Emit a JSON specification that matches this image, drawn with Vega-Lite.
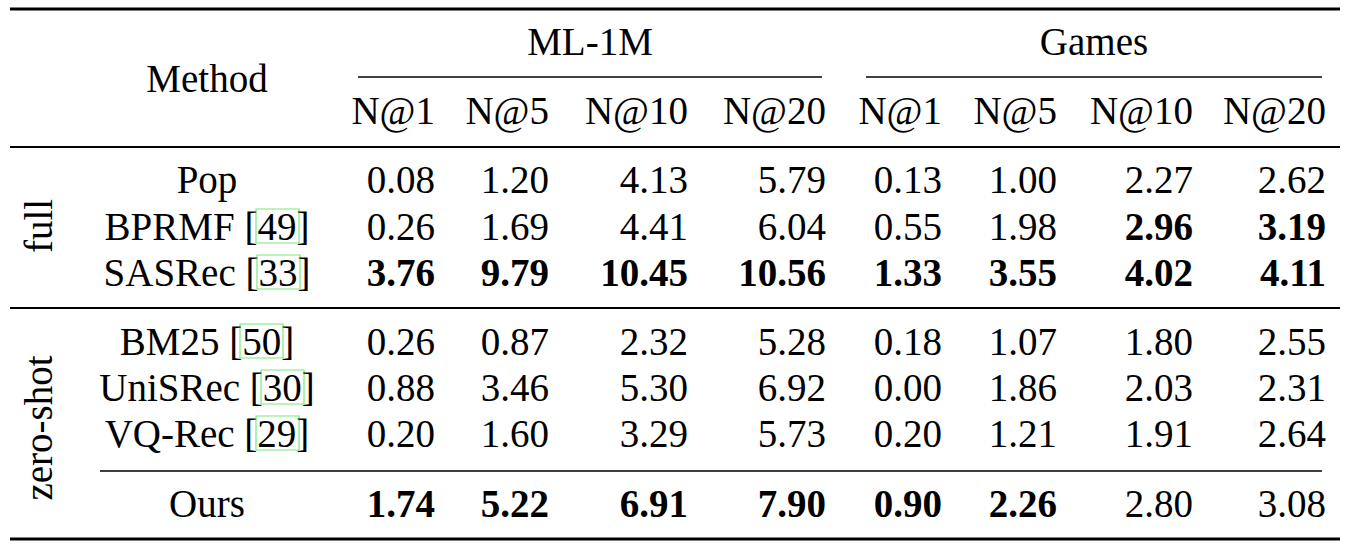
{
  "$schema": "https://vega.github.io/schema/vega-lite/v6.json",
  "width": 1352,
  "height": 550,
  "padding": 0,
  "autosize": "none",
  "background": "white",
  "config": {
    "view": {"stroke": null},
    "font": "Liberation Serif",
    "text": {"font": "Liberation Serif", "fontSize": 39, "color": "black", "baseline": "alphabetic"},
    "rule": {"color": "black"},
    "rect": {"filled": false, "stroke": "#7be87b", "strokeWidth": 1.2}
  },
  "datasets": {
    "table": [
      {"method": "Pop", "group": "full", "ML-1M N@1": 0.08, "ML-1M N@5": 1.20, "ML-1M N@10": 4.13, "ML-1M N@20": 5.79, "Games N@1": 0.13, "Games N@5": 1.00, "Games N@10": 2.27, "Games N@20": 2.62, "best": []},
      {"method": "BPRMF [49]", "group": "full", "ML-1M N@1": 0.26, "ML-1M N@5": 1.69, "ML-1M N@10": 4.41, "ML-1M N@20": 6.04, "Games N@1": 0.55, "Games N@5": 1.98, "Games N@10": 2.96, "Games N@20": 3.19, "best": ["Games N@10", "Games N@20"]},
      {"method": "SASRec [33]", "group": "full", "ML-1M N@1": 3.76, "ML-1M N@5": 9.79, "ML-1M N@10": 10.45, "ML-1M N@20": 10.56, "Games N@1": 1.33, "Games N@5": 3.55, "Games N@10": 4.02, "Games N@20": 4.11, "best": ["ML-1M N@1", "ML-1M N@5", "ML-1M N@10", "ML-1M N@20", "Games N@1", "Games N@5", "Games N@10", "Games N@20"]},
      {"method": "BM25 [50]", "group": "zero-shot", "ML-1M N@1": 0.26, "ML-1M N@5": 0.87, "ML-1M N@10": 2.32, "ML-1M N@20": 5.28, "Games N@1": 0.18, "Games N@5": 1.07, "Games N@10": 1.80, "Games N@20": 2.55, "best": []},
      {"method": "UniSRec [30]", "group": "zero-shot", "ML-1M N@1": 0.88, "ML-1M N@5": 3.46, "ML-1M N@10": 5.30, "ML-1M N@20": 6.92, "Games N@1": 0.00, "Games N@5": 1.86, "Games N@10": 2.03, "Games N@20": 2.31, "best": []},
      {"method": "VQ-Rec [29]", "group": "zero-shot", "ML-1M N@1": 0.20, "ML-1M N@5": 1.60, "ML-1M N@10": 3.29, "ML-1M N@20": 5.73, "Games N@1": 0.20, "Games N@5": 1.21, "Games N@10": 1.91, "Games N@20": 2.64, "best": []},
      {"method": "Ours", "group": "zero-shot", "ML-1M N@1": 1.74, "ML-1M N@5": 5.22, "ML-1M N@10": 6.91, "ML-1M N@20": 7.90, "Games N@1": 0.90, "Games N@5": 2.26, "Games N@10": 2.80, "Games N@20": 3.08, "best": ["ML-1M N@1", "ML-1M N@5", "ML-1M N@10", "ML-1M N@20", "Games N@1", "Games N@5"]}
    ],
    "cols": [
      {"col": "ML-1M N@1", "metric": "N@1", "cx": 5},
      {"col": "ML-1M N@5", "metric": "N@5", "cx": 6},
      {"col": "ML-1M N@10", "metric": "N@10", "cx": 8},
      {"col": "ML-1M N@20", "metric": "N@20", "cx": 10},
      {"col": "Games N@1", "metric": "N@1", "cx": 12},
      {"col": "Games N@5", "metric": "N@5", "cx": 13},
      {"col": "Games N@10", "metric": "N@10", "cx": 15},
      {"col": "Games N@20", "metric": "N@20", "cx": 17}
    ],
    "rows": [
      {"name": "Pop", "ry": 6},
      {"name": "full", "ry": 7},
      {"name": "BPRMF [49]", "ry": 8},
      {"name": "SASRec [33]", "ry": 9},
      {"name": "BM25 [50]", "ry": 11},
      {"name": "UniSRec [30]", "ry": 12},
      {"name": "zero-shot", "ry": 13},
      {"name": "VQ-Rec [29]", "ry": 14},
      {"name": "Ours", "ry": 16}
    ]
  },
  "data": {"values": [{}]},
  "layer": [
    {
      "mark": {"type": "rule", "strokeWidth": 3},
      "encoding": {
        "x": {
          "datum": 0,
          "type": "quantitative",
          "axis": null,
          "scale": {
            "domain": [0, 1, 2, 3, 4, 5, 6, 7, 8, 9, 10, 11, 12, 13, 14, 15, 16, 17, 18],
            "range": [10, 40, 100, 207, 358, 435, 549, 590, 688, 822, 826, 866, 942, 1057, 1094, 1193, 1322, 1326, 1340],
            "nice": false,
            "zero": false
          }
        },
        "x2": {"datum": 18},
        "y": {
          "datum": 0,
          "type": "quantitative",
          "axis": null,
          "scale": {
            "domain": [0, 1, 2, 3, 4, 5, 6, 7, 8, 9, 10, 11, 12, 13, 14, 15, 16, 17],
            "range": [9, 55, 77, 92, 124, 147, 193, 226, 240, 286, 308, 355, 401, 428, 447, 471, 517, 539],
            "nice": false,
            "zero": false
          }
        }
      }
    },
    {
      "mark": {"type": "rule", "strokeWidth": 1.3},
      "encoding": {"x": {"datum": 4, "type": "quantitative"}, "x2": {"datum": 9}, "y": {"datum": 2, "type": "quantitative"}}
    },
    {
      "mark": {"type": "rule", "strokeWidth": 1.3},
      "encoding": {"x": {"datum": 11, "type": "quantitative"}, "x2": {"datum": 16}, "y": {"datum": 2, "type": "quantitative"}}
    },
    {
      "mark": {"type": "rule", "strokeWidth": 2},
      "encoding": {"x": {"datum": 0, "type": "quantitative"}, "x2": {"datum": 18}, "y": {"datum": 5, "type": "quantitative"}}
    },
    {
      "mark": {"type": "rule", "strokeWidth": 2},
      "encoding": {"x": {"datum": 0, "type": "quantitative"}, "x2": {"datum": 18}, "y": {"datum": 10, "type": "quantitative"}}
    },
    {
      "mark": {"type": "rule", "strokeWidth": 1.3},
      "encoding": {"x": {"datum": 2, "type": "quantitative"}, "x2": {"datum": 16}, "y": {"datum": 15, "type": "quantitative"}}
    },
    {
      "mark": {"type": "rule", "strokeWidth": 3},
      "encoding": {"x": {"datum": 0, "type": "quantitative"}, "x2": {"datum": 18}, "y": {"datum": 17, "type": "quantitative"}}
    },
    {
      "data": {"name": "table"},
      "transform": [
        {"filter": "datum.method == 'BPRMF [49]'"},
        {"lookup": "method", "from": {"data": {"name": "rows"}, "key": "name", "fields": ["ry"]}}
      ],
      "mark": {"type": "rect", "xOffset": 49, "x2Offset": 92, "yOffset": -31, "y2Offset": 3},
      "encoding": {"x": {"datum": 3, "type": "quantitative"}, "x2": {"datum": 3}, "y": {"field": "ry", "type": "quantitative"}, "y2": {"field": "ry"}}
    },
    {
      "data": {"name": "table"},
      "transform": [
        {"filter": "datum.method == 'SASRec [33]'"},
        {"lookup": "method", "from": {"data": {"name": "rows"}, "key": "name", "fields": ["ry"]}}
      ],
      "mark": {"type": "rect", "xOffset": 50, "x2Offset": 93, "yOffset": -31, "y2Offset": 3},
      "encoding": {"x": {"datum": 3, "type": "quantitative"}, "x2": {"datum": 3}, "y": {"field": "ry", "type": "quantitative"}, "y2": {"field": "ry"}}
    },
    {
      "data": {"name": "table"},
      "transform": [
        {"filter": "datum.method == 'BM25 [50]'"},
        {"lookup": "method", "from": {"data": {"name": "rows"}, "key": "name", "fields": ["ry"]}}
      ],
      "mark": {"type": "rect", "xOffset": 33, "x2Offset": 76, "yOffset": -31, "y2Offset": 3},
      "encoding": {"x": {"datum": 3, "type": "quantitative"}, "x2": {"datum": 3}, "y": {"field": "ry", "type": "quantitative"}, "y2": {"field": "ry"}}
    },
    {
      "data": {"name": "table"},
      "transform": [
        {"filter": "datum.method == 'UniSRec [30]'"},
        {"lookup": "method", "from": {"data": {"name": "rows"}, "key": "name", "fields": ["ry"]}}
      ],
      "mark": {"type": "rect", "xOffset": 54, "x2Offset": 97, "yOffset": -31, "y2Offset": 3},
      "encoding": {"x": {"datum": 3, "type": "quantitative"}, "x2": {"datum": 3}, "y": {"field": "ry", "type": "quantitative"}, "y2": {"field": "ry"}}
    },
    {
      "data": {"name": "table"},
      "transform": [
        {"filter": "datum.method == 'VQ-Rec [29]'"},
        {"lookup": "method", "from": {"data": {"name": "rows"}, "key": "name", "fields": ["ry"]}}
      ],
      "mark": {"type": "rect", "xOffset": 49, "x2Offset": 92, "yOffset": -31, "y2Offset": 3},
      "encoding": {"x": {"datum": 3, "type": "quantitative"}, "x2": {"datum": 3}, "y": {"field": "ry", "type": "quantitative"}, "y2": {"field": "ry"}}
    },
    {
      "mark": {"type": "text", "align": "center", "text": "ML-1M"},
      "encoding": {"x": {"datum": 7, "type": "quantitative"}, "y": {"datum": 1, "type": "quantitative"}}
    },
    {
      "mark": {"type": "text", "align": "center", "text": "Games"},
      "encoding": {"x": {"datum": 14, "type": "quantitative"}, "y": {"datum": 1, "type": "quantitative"}}
    },
    {
      "mark": {"type": "text", "align": "center", "text": "Method"},
      "encoding": {"x": {"datum": 3, "type": "quantitative"}, "y": {"datum": 3, "type": "quantitative"}}
    },
    {
      "data": {"name": "cols"},
      "mark": {"type": "text", "align": "right"},
      "encoding": {
        "x": {"field": "cx", "type": "quantitative"},
        "y": {"datum": 4, "type": "quantitative"},
        "text": {"field": "metric", "type": "nominal"}
      }
    },
    {
      "data": {"values": [{"group": "full"}, {"group": "zero-shot"}]},
      "transform": [
        {"lookup": "group", "from": {"data": {"name": "rows"}, "key": "name", "fields": ["ry"]}}
      ],
      "mark": {"type": "text", "align": "center", "baseline": "middle", "angle": 270},
      "encoding": {
        "x": {"datum": 1, "type": "quantitative"},
        "y": {"field": "ry", "type": "quantitative"},
        "text": {"field": "group", "type": "nominal"}
      }
    },
    {
      "data": {"name": "table"},
      "transform": [
        {"lookup": "method", "from": {"data": {"name": "rows"}, "key": "name", "fields": ["ry"]}}
      ],
      "mark": {"type": "text", "align": "center"},
      "encoding": {
        "x": {"datum": 3, "type": "quantitative"},
        "y": {"field": "ry", "type": "quantitative"},
        "text": {"field": "method", "type": "nominal"}
      }
    },
    {
      "data": {"name": "table"},
      "transform": [
        {"fold": ["ML-1M N@1", "ML-1M N@5", "ML-1M N@10", "ML-1M N@20", "Games N@1", "Games N@5", "Games N@10", "Games N@20"], "as": ["col", "value"]},
        {"filter": "indexof(datum.best, datum.col) < 0"},
        {"lookup": "col", "from": {"data": {"name": "cols"}, "key": "col", "fields": ["cx"]}},
        {"lookup": "method", "from": {"data": {"name": "rows"}, "key": "name", "fields": ["ry"]}}
      ],
      "mark": {"type": "text", "align": "right"},
      "encoding": {
        "x": {"field": "cx", "type": "quantitative"},
        "y": {"field": "ry", "type": "quantitative"},
        "text": {"field": "value", "type": "quantitative", "format": ".2f"}
      }
    },
    {
      "data": {"name": "table"},
      "transform": [
        {"fold": ["ML-1M N@1", "ML-1M N@5", "ML-1M N@10", "ML-1M N@20", "Games N@1", "Games N@5", "Games N@10", "Games N@20"], "as": ["col", "value"]},
        {"filter": "indexof(datum.best, datum.col) >= 0"},
        {"lookup": "col", "from": {"data": {"name": "cols"}, "key": "col", "fields": ["cx"]}},
        {"lookup": "method", "from": {"data": {"name": "rows"}, "key": "name", "fields": ["ry"]}}
      ],
      "mark": {"type": "text", "align": "right", "fontWeight": "bold"},
      "encoding": {
        "x": {"field": "cx", "type": "quantitative"},
        "y": {"field": "ry", "type": "quantitative"},
        "text": {"field": "value", "type": "quantitative", "format": ".2f"}
      }
    }
  ]
}
